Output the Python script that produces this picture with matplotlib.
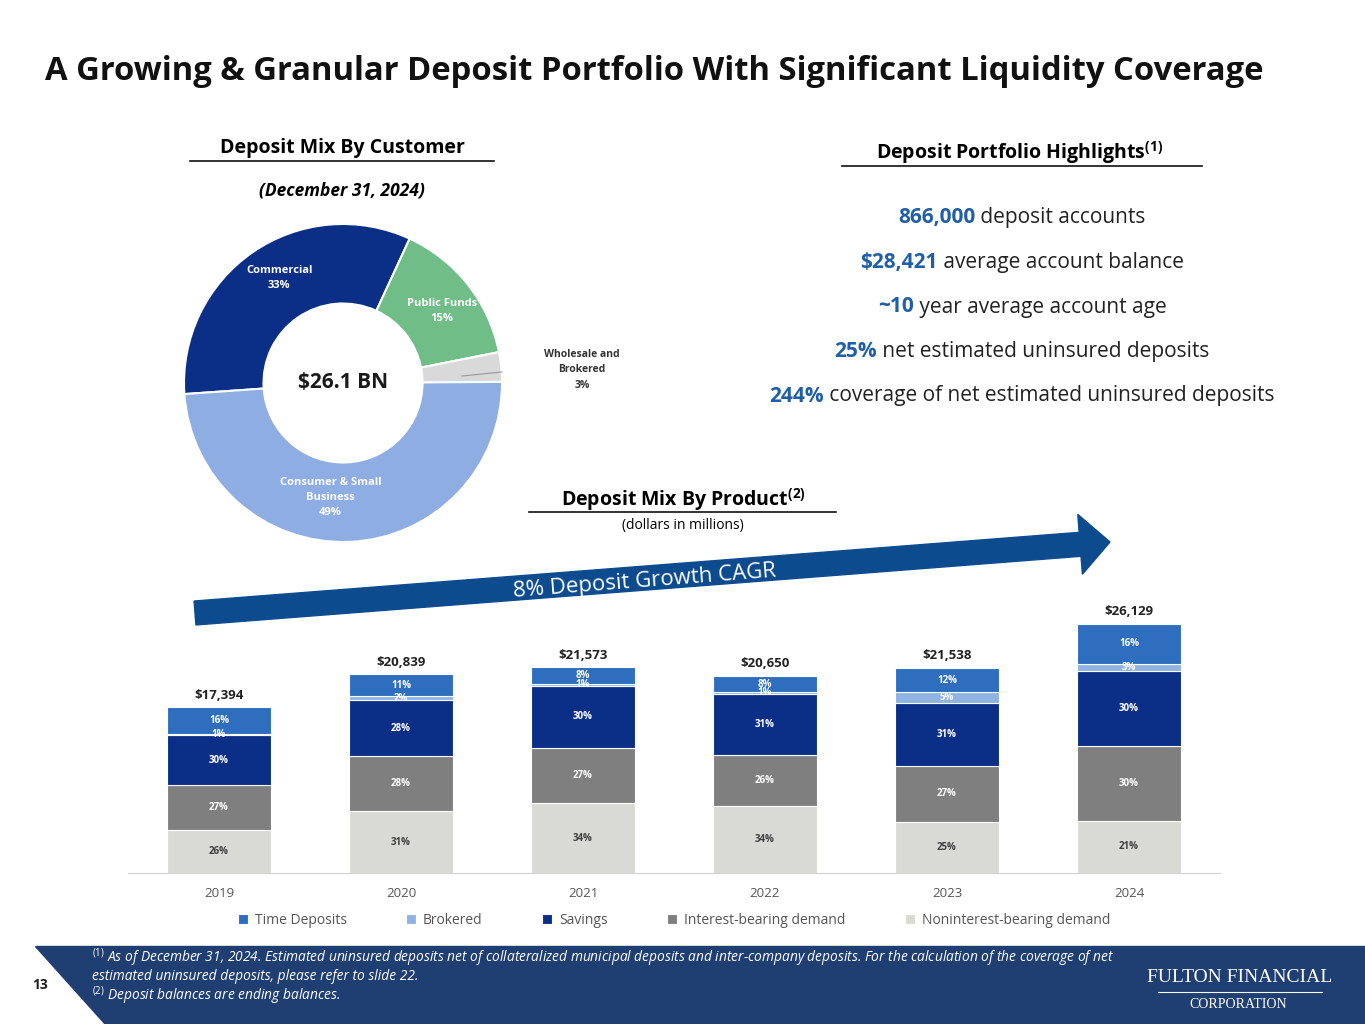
import matplotlib
matplotlib.use("Agg")
import matplotlib.pyplot as plt
import numpy as np
from matplotlib.patches import Polygon

plt.rcParams['font.family'] = ['Open Sans', 'DejaVu Sans']
plt.rcParams['mathtext.fontset'] = 'custom'
plt.rcParams['mathtext.rm'] = 'Open Sans'
plt.rcParams['mathtext.bf'] = 'Open Sans:bold'
plt.rcParams['mathtext.it'] = 'Open Sans:italic'

# ---- data ----
donut_labels = ["Commercial\n33%", "Public Funds\n15%", "", "Consumer & Small\nBusiness\n49%"]
donut_values = [33, 15, 3, 49]
donut_colors = ["#0b2f87", "#70bd88", "#d9d9d9", "#8eade3"]

years = ["2019", "2020", "2021", "2022", "2023", "2024"]
totals = [17394, 20839, 21573, 20650, 21538, 26129]
series = ["Noninterest-bearing demand", "Interest-bearing demand", "Savings", "Brokered", "Time Deposits"]
pcts = {
    "Noninterest-bearing demand": [26, 31, 34, 34, 25, 21],
    "Interest-bearing demand": [27, 28, 27, 26, 27, 30],
    "Savings": [30, 28, 30, 31, 31, 30],
    "Brokered": [1, 2, 1, 1, 5, 3],
    "Time Deposits": [16, 11, 8, 8, 12, 16],
}
colors = {
    "Noninterest-bearing demand": "#d9d9d6",
    "Interest-bearing demand": "#7f7f7f",
    "Savings": "#0b2f87",
    "Brokered": "#8fb4e3",
    "Time Deposits": "#2f6dbf",
}
label_colors = {
    "Noninterest-bearing demand": "#404040",
    "Interest-bearing demand": "white",
    "Savings": "white",
    "Brokered": "white",
    "Time Deposits": "white",
}
highlights = [("866,000", " deposit accounts"), ("$28,421", " average account balance"),
              ("~10", " year average account age"), ("25%", " net estimated uninsured deposits"),
              ("244%", " coverage of net estimated uninsured deposits")]

W, H = 1365, 1024
fig = plt.figure(figsize=(13.65, 10.24), dpi=100)

def fr(x0, y0, x1, y1):
    return [x0 / W, 1 - y1 / H, (x1 - x0) / W, (y1 - y0) / H]

# ---- donut ----
cx, cy, R = 343, 383, 159
axd = fig.add_axes(fr(cx - R, cy - R, cx + R, cy + R))
wedges, _ = axd.pie(donut_values, colors=donut_colors, startangle=184, counterclock=False,
                    wedgeprops=dict(width=0.5, edgecolor="white", linewidth=1.5))
axd.set_xlim(-1, 1); axd.set_ylim(-1, 1); axd.set_aspect("equal"); axd.axis("off")
lab_pos = [(-0.4, 0.66), (0.62, 0.45), None, (-0.08, -0.72)]
for lab, pos in zip(donut_labels, lab_pos):
    if pos:
        axd.text(pos[0], pos[1], lab, ha="center", va="center", color="white",
                 fontsize=8, fontweight="bold", linespacing=1.5)
axd.text(0, 0, "$26.1 BN", ha="center", va="center", fontsize=15, fontweight="bold", color="#1a1a1a")

# ---- bars ----
ax = fig.add_axes(fr(128, 600, 1220, 873))
ymax = 26129 * (873 - 600) / (873 - 624)
x = np.arange(len(years))
bottom = np.zeros(len(years))
for s in series:
    vals = np.array(pcts[s]) / 100 * np.array(totals)
    ax.bar(x, vals, 0.57, bottom=bottom, color=colors[s], label=s, edgecolor="white", linewidth=0.8)
    for i, (v, p) in enumerate(zip(vals, pcts[s])):
        yc = bottom[i] + v / 2
        ax.text(x[i], yc, f"{p}%", ha="center", va="center", fontsize=7, fontweight="bold",
                color=label_colors[s])
    bottom += vals
for i, t in enumerate(totals):
    ax.text(x[i], t + 600, f"${t:,}", ha="center", va="bottom", fontsize=9.5, fontweight="bold", color="#222")
ax.set_xlim(-0.5, 5.5); ax.set_ylim(0, ymax)
ax.set_xticks(x); ax.set_xticklabels(years, fontsize=9.5, color="#555")
ax.tick_params(length=0, pad=10)
ax.set_yticks([])
for sp in ["top", "left", "right"]:
    ax.spines[sp].set_visible(False)
ax.spines["bottom"].set_color("#d0d0d0")
h, l = ax.get_legend_handles_labels()
order = [4, 3, 2, 1, 0]
ax.legend([h[k] for k in order], [l[k] for k in order], loc="upper center", bbox_to_anchor=(0.5, -0.1),
          ncol=5, frameon=False, fontsize=10, handlelength=0.7, handleheight=0.7, columnspacing=4.3,
          labelcolor="#555", handletextpad=0.5)

# ---- overlay ----
ov2 = fig.add_axes([0, 0, 1, 1], zorder=5)
ov2.set_xlim(0, W); ov2.set_ylim(H, 0); ov2.axis("off")
ov2.patch.set_alpha(0)

ov2.text(45, 72, "A Growing & Granular Deposit Portfolio With Significant Liquidity Coverage",
         fontsize=23.6, fontweight="bold", va="center", ha="left", color="#111")

ov2.text(342, 148, "Deposit Mix By Customer", fontsize=14, fontweight="bold", ha="center", va="center")
ov2.plot([190, 494], [161, 161], color="#111", lw=1.2)
ov2.text(342, 190, "(December 31, 2024)", fontsize=12.5, fontweight="bold", style="italic", ha="center", va="center")
ov2.text(1020, 153, r"Deposit Portfolio Highlights$^{\mathbf{(1)}}$", fontsize=14, fontweight="bold", ha="center", va="center")
ov2.plot([842, 1202], [166, 166], color="#111", lw=1.2)
ov2.text(683, 500, r"Deposit Mix By Product$^{\mathbf{(2)}}$", fontsize=14, fontweight="bold", ha="center", va="center")
ov2.plot([529, 836], [512, 512], color="#111", lw=1.2)
ov2.text(683, 526, "(dollars in millions)", fontsize=10, ha="center", va="center")

ov2.text(582, 370, "Wholesale and\nBrokered\n3%", fontsize=7.5, fontweight="bold", ha="center", va="center",
         color="#333", linespacing=1.6)
ov2.plot([462, 502], [376, 372], color="#999", lw=0.8)

fig.canvas.draw()
r = fig.canvas.get_renderer()
for k, (b, n) in enumerate(highlights):
    y = 218 + k * 44.5
    tb = ov2.text(0, y, b, fontsize=15, fontweight="bold", color="#1f5fa8", va="center", ha="left")
    tn = ov2.text(0, y, n, fontsize=15, color="#222", va="center", ha="left")
    wb = tb.get_window_extent(r).width
    wn = tn.get_window_extent(r).width
    x0 = 1022 - (wb + wn) / 2
    tb.set_x(x0); tn.set_x(x0 + wb)

p0 = np.array([195, 613]); p1 = np.array([1110, 542])
d = (p1 - p0) / np.linalg.norm(p1 - p0); nrm = np.array([d[1], -d[0]])
hw, hl, hh = 12, 30, 30
base = p1 - d * hl
pts = [p0 - nrm * hw, base - nrm * hw, base - nrm * hh, p1, base + nrm * hh, base + nrm * hw, p0 + nrm * hw]
ov2.add_patch(Polygon(pts, closed=True, color="#0d4b8f"))
ang = np.degrees(np.arctan2(-(p1[1] - p0[1]), p1[0] - p0[0]))
ov2.text(645, 581, "8% Deposit Growth CAGR", rotation=ang, rotation_mode="anchor", fontsize=16,
         color="white", ha="center", va="center")

ov2.add_patch(Polygon([[35, 946], [W, 946], [W, H], [105, H]], closed=True, color="#1f3e72"))
ov2.text(40, 985, "13", fontsize=10, fontweight="bold", ha="center", va="center", color="#222")
fs = 9.9
ov2.text(92, 958, r"$^{(1)}$ As of December 31, 2024. Estimated uninsured deposits net of collateralized municipal deposits and inter-company deposits. For the calculation of the coverage of net",
         fontsize=fs, style="italic", color="white", va="center")
ov2.text(92, 977, "estimated uninsured deposits, please refer to slide 22.", fontsize=fs, style="italic", color="white", va="center")
ov2.text(92, 996, r"$^{(2)}$ Deposit balances are ending balances.", fontsize=fs, style="italic", color="white", va="center")
ov2.text(1240, 977, "FULTON FINANCIAL", fontsize=14, family="Liberation Serif", color="white", ha="center", va="center")
ov2.text(1238, 1005, "CORPORATION", fontsize=10, family="Liberation Serif", color="white", ha="center", va="center")
ov2.plot([1158, 1322], [992, 992], color="white", lw=0.8)

fig.savefig("out.png", dpi=100)
